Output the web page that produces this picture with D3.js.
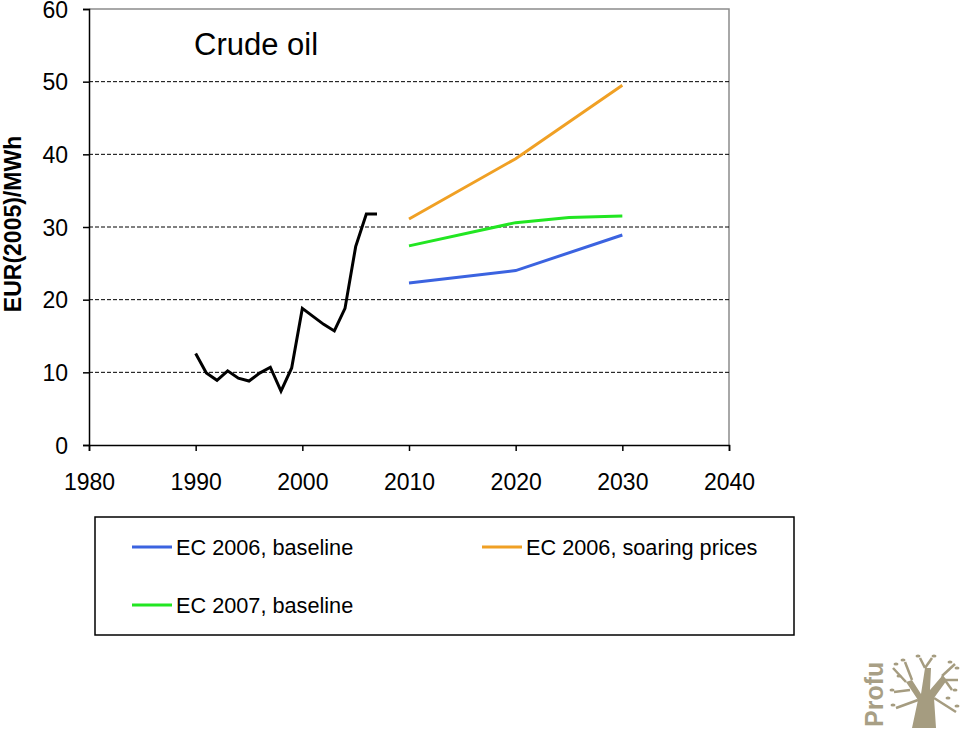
<!DOCTYPE html>
<html><head><meta charset="utf-8">
<script src="https://cdn.jsdelivr.net/npm/d3@7"></script>
<style>body{margin:0;background:#fff;}svg{display:block;font-family:"Liberation Sans",Arial,sans-serif;}</style>
</head><body>
<svg id="chart" width="960" height="729"></svg>
<script>
const histYears = [1990,1991,1992,1993,1994,1995,1996,1997,1998,1999,2000,2001,2002,2003,2004,2005,2006,2007];
const histValues = [12.6,9.9,8.9,10.2,9.2,8.8,9.9,10.7,7.4,10.6,18.8,17.7,16.6,15.7,18.8,27.3,31.8,31.8];
const ec2006BaseYears = [2010,2020,2030];
const ec2006BaseValues = [22.3,24.0,28.9];
const ec2006SoarYears = [2010,2020,2030];
const ec2006SoarValues = [31.1,39.4,49.5];
const ec2007BaseYears = [2010,2020,2025,2030];
const ec2007BaseValues = [27.4,30.6,31.3,31.5];
const xTicks = [1980,1990,2000,2010,2020,2030,2040];
const yTicks = [0,10,20,30,40,50,60];
const seriesNames = ["EC 2006, baseline","EC 2006, soaring prices","EC 2007, baseline"];
const seriesColors = ["#3b63e0","#f0a024","#22e622"];

const FONT = "'Liberation Sans',Arial,sans-serif";
const svg = d3.select("#chart");
const x = d3.scaleLinear().domain([1980,2040]).range([89,729]);
const y = d3.scaleLinear().domain([0,60]).range([445,9]);

// plot frame (top & right, gray)
svg.append("path").attr("d",`M${x(1980)},${y(60)}H${x(2040)}V${y(0)}`)
  .attr("fill","none").attr("stroke","#8c8c8c").attr("stroke-width",1.5);

// gridlines
svg.append("g").selectAll("line").data(yTicks.filter(t=>t>0&&t<60)).join("line")
  .attr("x1",x(1980)).attr("x2",x(2040)).attr("y1",d=>y(d)).attr("y2",d=>y(d))
  .attr("stroke","#000").attr("stroke-width",1).attr("stroke-dasharray","4,2");

// axes
const xAxis = svg.append("g").attr("transform",`translate(0,${y(0)})`)
  .call(d3.axisBottom(x).tickValues(xTicks).tickFormat(d3.format("d")).tickSize(6));
const yAxis = svg.append("g").attr("transform",`translate(${x(1980)},0)`)
  .call(d3.axisLeft(y).tickValues(yTicks).tickSize(6));
[xAxis,yAxis].forEach(a=>{
  a.attr("font-size",23).attr("font-family",FONT);
  a.select(".domain").attr("stroke","#000").attr("stroke-width",1.5);
  a.selectAll(".tick line").attr("stroke","#000").attr("stroke-width",1.5);
  a.selectAll(".tick text").attr("fill","#000").attr("font-size",23);
});
xAxis.selectAll(".tick text").attr("y",45).attr("dy","0");
yAxis.selectAll(".tick text").attr("x",-21).attr("dy","0.36em");

// y label
svg.append("text").attr("transform","translate(21,224) rotate(-90)")
  .attr("text-anchor","middle").attr("font-size",23).attr("font-weight","bold").attr("font-family",FONT).text("EUR(2005)/MWh");

// title
svg.append("text").attr("x",194).attr("y",55).attr("font-size",31).attr("font-family",FONT).text("Crude oil");

const line = d3.line().x(d=>x(d[0])).y(d=>y(d[1]));
const hist = histYears.map((yr,i)=>[yr,histValues[i]]);
svg.append("path").datum(hist).attr("d",line).attr("fill","none").attr("stroke","#000").attr("stroke-width",3).attr("stroke-linejoin","miter");

const series = [
  ec2006BaseYears.map((yr,i)=>[yr,ec2006BaseValues[i]]),
  ec2006SoarYears.map((yr,i)=>[yr,ec2006SoarValues[i]]),
  ec2007BaseYears.map((yr,i)=>[yr,ec2007BaseValues[i]])
];
series.forEach((s,i)=>{
  svg.append("path").datum(s).attr("d",line).attr("fill","none").attr("stroke",seriesColors[i]).attr("stroke-width",3);
});

// legend
const lg = svg.append("g");
lg.append("rect").attr("x",95).attr("y",517).attr("width",699).attr("height",118)
  .attr("fill","#fff").attr("stroke","#000").attr("stroke-width",1.5);
const legPos = [[132,547],[482,547],[132,605]];
seriesNames.forEach((n,i)=>{
  const [lx,ly] = legPos[i];
  lg.append("line").attr("x1",lx).attr("x2",lx+40).attr("y1",ly).attr("y2",ly).attr("stroke",seriesColors[i]).attr("stroke-width",3);
  lg.append("text").attr("x",lx+44).attr("y",ly+8).attr("font-size",21.7).attr("font-family",FONT).text(n);
});

// Profu logo
const logo = svg.append("g").attr("fill","#a59c80").attr("stroke","#a59c80");
logo.append("text").attr("transform","translate(883,727) rotate(-90)").attr("stroke","none")
  .attr("font-size",25).attr("font-weight","bold").attr("font-family",FONT).attr("fill","#a89f85").text("Profu");
// trunk
logo.append("path").attr("stroke","none")
  .attr("d","M912,728 L918,700 L906,682 L912,680 L921,694 L925,668 L931,668 L930,690 L942,676 L947,680 L934,698 L936,728 Z");
// branches
const br = [[906,682,893,668],[912,680,905,662],[925,668,920,658],[925,668,932,658],[942,676,955,664],[942,676,952,690],[934,698,956,712],[918,700,896,708],[910,690,894,692],[945,680,958,680]];
logo.append("g").selectAll("line").data(br).join("line")
  .attr("x1",d=>d[0]).attr("y1",d=>d[1]).attr("x2",d=>d[2]).attr("y2",d=>d[3]).attr("stroke-width",2.5);
const leaves = [[896,664],[903,660],[918,656],[934,656],[950,662],[957,668],[955,690],[957,706],[893,705],[892,690],[899,676],[948,698]];
logo.append("g").selectAll("ellipse").data(leaves).join("ellipse")
  .attr("cx",d=>d[0]).attr("cy",d=>d[1]).attr("rx",2.5).attr("ry",1.5).attr("stroke","none");
</script>
</body></html>
